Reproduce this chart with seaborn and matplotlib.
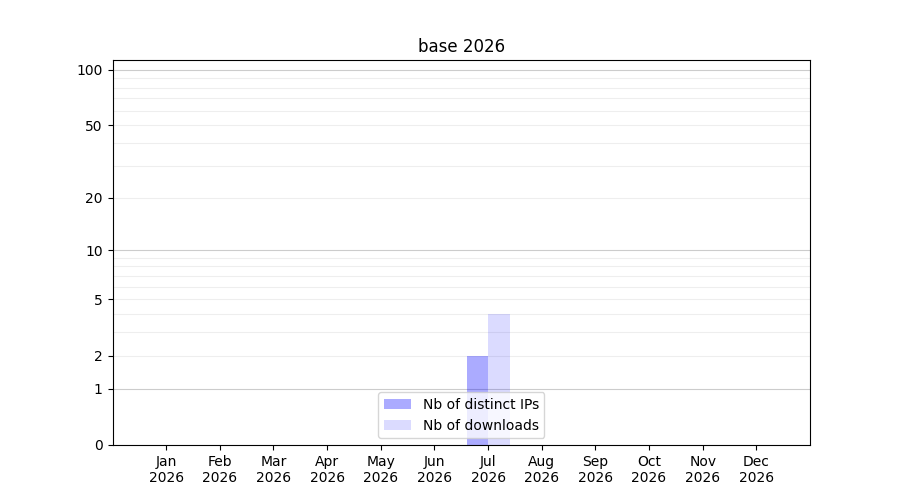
import matplotlib
matplotlib.use('Agg')
import matplotlib.pyplot as plt
import seaborn as sb
import pandas as pd
import numpy as np

months = ['Jan', 'Feb', 'Mar', 'Apr', 'May', 'Jun', 'Jul', 'Aug', 'Sep', 'Oct', 'Nov', 'Dec']
year = 2026
distinct_ips = [0, 0, 0, 0, 0, 0, 2, 0, 0, 0, 0, 0]
downloads = [0, 0, 0, 0, 0, 0, 4, 0, 0, 0, 0, 0]
series_names = ['Nb of distinct IPs', 'Nb of downloads']
series_alpha = [0.33, 0.14]
major_ticks = [0, 1, 2, 5, 10, 20, 50, 100]
minor_ticks = [3, 4, 6, 7, 8, 9, 30, 40, 60, 70, 80, 90]

labels = ['{}\n{}'.format(m, year) for m in months]
df = pd.DataFrame({
    'month': labels * 2,
    'value': distinct_ips + downloads,
    'series': [series_names[0]] * 12 + [series_names[1]] * 12,
})

def fwd(y):
    return np.log10(1 + np.clip(y, 0, None))

def inv(y):
    return 10 ** y - 1

fig, ax = plt.subplots(figsize=(9, 5), dpi=100)
sb.barplot(data=df, x='month', y='value', hue='series', order=labels,
           palette={series_names[0]: 'blue', series_names[1]: 'blue'},
           saturation=1, width=0.8, ax=ax, legend=False)

# translucent bars, grid shows through
for container, a in zip(ax.containers, series_alpha):
    for patch in container:
        patch.set_alpha(a)
    container.set_label(None)
ax.legend(ax.containers, series_names, loc='lower center')

ax.set_yscale('function', functions=(fwd, inv))
ax.set_ylim(0, 113)
ax.set_xlim(-1, 12)
ax.set_yticks(major_ticks)
ax.set_yticklabels([str(t) for t in major_ticks])
ax.set_yticks(minor_ticks, minor=True)
ax.tick_params(axis='y', which='minor', length=0)

ax.grid(True, axis='y', which='both', color='#eeeeee', linewidth=0.8)
for tick, val in zip(ax.yaxis.get_major_ticks(), major_ticks):
    if val in (1, 10, 100):
        tick.gridline.set_color('#cccccc')
ax.set_axisbelow(True)

ax.set_xlabel('')
ax.set_ylabel('')
ax.set_title('base {}'.format(year))

fig.savefig('out.png', dpi=100)
